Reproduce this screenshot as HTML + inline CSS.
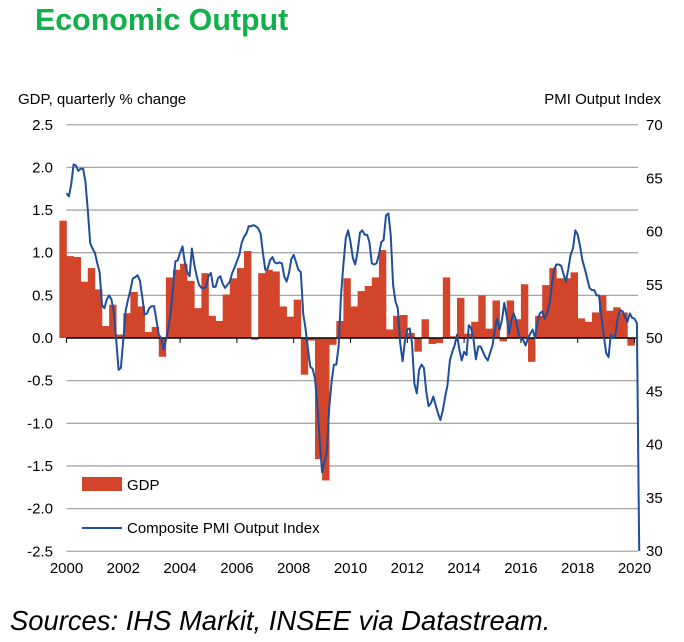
<!DOCTYPE html>
<html><head><meta charset="utf-8">
<style>
body{margin:0;background:#fff;width:684px;height:642px;overflow:hidden;font-family:"Liberation Sans",Arial,sans-serif;}
svg{display:block}
</style></head>
<body>
<svg id="chart" width="684" height="642" viewBox="0 0 684 642" xmlns="http://www.w3.org/2000/svg">
<text x="35" y="30" font-size="30.4" font-weight="bold" fill="#12b04a" font-family="Liberation Sans, Arial, sans-serif">Economic Output</text>
<text x="18" y="104" font-size="15" fill="#000">GDP, quarterly % change</text>
<text x="661" y="104" font-size="15" fill="#000" text-anchor="end">PMI Output  Index</text>
<g id="grid"></g>
<g id="bars"></g>
<g id="axis"></g>
<g id="line"></g>
<g id="labels"></g>
<g>
<rect x="82" y="477" width="40" height="14" fill="#d2452a"/>
<text x="127" y="490" font-size="15">GDP</text>
<line x1="82" y1="528" x2="122" y2="528" stroke="#1f4e9b" stroke-width="2"/>
<text x="127" y="533" font-size="15">Composite PMI Output Index</text>
</g>
<text x="10" y="630" font-size="27.4" font-style="italic" fill="#000">Sources: IHS Markit, INSEE via Datastream.</text>
</svg>
<script>
// GDP quarterly % change, starting 1999Q4
const gdpStartYear = 1999.75;
const gdpValues = [1.375,
0.96,0.95,0.66,0.82, 0.57,0.14,0.39,0.04, 0.29,0.54,0.37,0.07, 0.13,-0.22,0.71,0.80,
0.87,0.67,0.35,0.76, 0.26,0.20,0.51,0.70, 0.82,1.02,-0.02,0.76, 0.80,0.78,0.37,0.25,
0.45,-0.43,-0.03,-1.42, -1.67,-0.08,0.20,0.70, 0.37,0.55,0.61,0.71, 1.03,0.10,0.26,0.27,
0.06,-0.16,0.22,-0.07, -0.06,0.71,0.02,0.47, 0.05,0.19,0.50,0.11, 0.44,-0.04,0.44,0.22,
0.63,-0.28,0.26,0.62, 0.82,0.70,0.70,0.77, 0.23,0.19,0.30,0.50, 0.32,0.36,0.30,-0.09];
// Composite PMI monthly, starting Jan 2000
const pmiStartYear = 2000;
const pmiValues = [
63.6,63.3,64.4,66.3,66.2,65.7,65.9,65.9,64.7,62.0,58.9,58.4,
58.0,57.0,56.2,53.1,52.8,53.6,54.0,53.6,52.5,49.8,47.0,47.2,
49.8,52.6,53.6,54.5,55.6,55.7,55.9,55.4,53.9,52.2,52.3,52.8,
53.0,53.0,51.7,50.3,50.0,48.9,49.8,50.9,52.3,54.7,57.2,57.3,
58.0,58.6,57.1,56.2,55.8,58.4,56.9,55.8,55.0,54.7,54.7,54.8,
55.8,56.1,54.8,54.8,55.6,55.8,55.1,54.7,55.0,55.3,56.1,56.6,
57.2,57.8,58.9,59.5,59.8,60.5,60.5,60.6,60.5,60.3,59.8,58.0,
56.4,56.5,57.3,57.6,57.1,57.0,57.1,57.0,55.8,55.3,56.1,57.4,
57.8,57.1,56.4,56.2,52.3,50.9,49.0,47.3,47.1,46.2,43.7,40.3,
37.4,38.4,39.3,43.4,45.9,47.5,47.5,49.3,54.0,56.9,59.4,60.1,
59.0,57.5,56.9,58.1,59.9,60.1,59.7,59.7,59.0,57.0,56.9,57.0,
57.8,59.0,59.2,61.5,61.7,59.7,55.0,53.4,52.8,49.5,47.8,49.7,
50.8,50.9,49.5,45.7,44.8,47.0,47.5,47.2,45.0,43.6,43.9,44.5,
43.7,42.9,42.3,43.2,44.5,45.6,47.9,48.7,49.3,50.3,48.9,47.9,
48.7,48.4,51.2,50.9,49.8,48.0,49.2,49.2,48.7,48.2,47.9,48.6,
49.3,50.8,51.8,50.8,51.7,53.3,52.0,50.4,51.7,52.3,51.6,50.4,
49.9,49.8,49.3,50.0,50.4,50.8,50.0,51.5,52.3,52.5,51.8,52.3,
53.1,54.8,56.4,56.9,56.9,56.8,56.0,55.3,56.4,57.8,58.4,60.1,
59.7,58.6,57.3,56.5,55.6,54.7,54.5,54.5,54.0,54.0,52.0,50.3,
48.6,48.2,50.3,50.0,50.4,52.0,52.6,52.5,52.0,51.5,52.3,51.9,
51.8,51.4,30];
const leftTicks = [2.5,2.0,1.5,1.0,0.5,0.0,-0.5,-1.0,-1.5,-2.0,-2.5];
const rightTicks = [70,65,60,55,50,45,40,35,30];
const yearTicks = [2000,2002,2004,2006,2008,2010,2012,2014,2016,2018,2020];

const NS = "http://www.w3.org/2000/svg";
const X0 = 66.5, PX_YEAR = 28.4, PLOT_R = 638;
const xScale = y => X0 + (y - 2000) * PX_YEAR;
const yLeft = v => 338 - v * 85.3;
const yRight = v => 338 - (v - 50) * 10.65;
function mk(tag, attrs, parent) {
  const e = document.createElementNS(NS, tag);
  for (const k in attrs) e.setAttribute(k, attrs[k]);
  parent.appendChild(e);
  return e;
}
const grid = document.getElementById('grid');
leftTicks.forEach(v => {
  if (v === 0) return;
  const l = mk('line', {x1: X0, x2: PLOT_R, y1: yLeft(v), y2: yLeft(v), stroke: '#a6a6a6', 'stroke-width': 1.3}, grid);
  
  
});
const labels = document.getElementById('labels');
leftTicks.forEach(v => {
  const t = mk('text', {x: 53, y: yLeft(v) + 5, 'font-size': 15, 'text-anchor': 'end'}, labels);
  t.textContent = v.toFixed(1);
  
  
});
rightTicks.forEach(v => {
  const t = mk('text', {x: 646, y: yRight(v) + 5, 'font-size': 15}, labels);
  t.textContent = String(v);
  
  
});
yearTicks.forEach(y => {
  const t = mk('text', {x: xScale(y), y: 573, 'font-size': 15, 'text-anchor': 'middle'}, labels);
  t.textContent = String(y);
  
  
});
const bars = document.getElementById('bars');
gdpValues.forEach((v, i) => {
  const xa = xScale(gdpStartYear + i * 0.25), xb = xScale(gdpStartYear + (i + 1) * 0.25);
  const y0 = yLeft(0), y1 = yLeft(v);
  const r = mk('rect', {x: xa, y: Math.min(y0, y1), width: xb - xa + 0.3, height: Math.abs(y1 - y0), fill: '#d2452a'}, bars);
  
  
});
const axis = document.getElementById('axis');
const ax = mk('line', {x1: X0, x2: PLOT_R, y1: yLeft(0), y2: yLeft(0), stroke: '#000', 'stroke-width': 1.5}, axis);


yearTicks.forEach(y => {
  const tk = mk('line', {x1: xScale(y), x2: xScale(y), y1: yLeft(0), y2: yLeft(0) + 5, stroke: '#000', 'stroke-width': 1}, axis);
  
  
});
const pts = pmiValues.map((v, i) => xScale(pmiStartYear + i / 12).toFixed(1) + ',' + yRight(v).toFixed(1)).join(' ');
const pl = mk('polyline', {points: pts, fill: 'none', stroke: '#1f4e9b', 'stroke-width': 2, 'stroke-linejoin': 'round'}, document.getElementById('line'));


</script>
</body></html>
